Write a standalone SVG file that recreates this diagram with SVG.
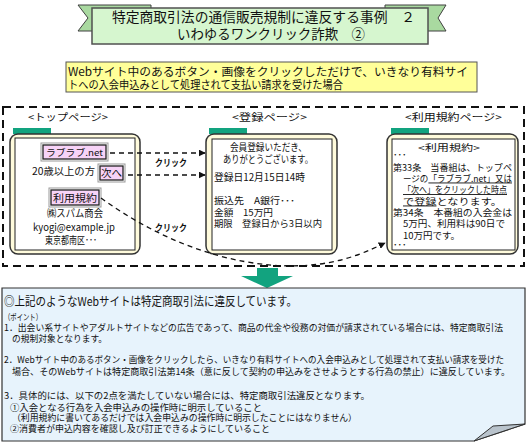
<svg xmlns="http://www.w3.org/2000/svg" width="528" height="444" viewBox="0 0 528 444">
<defs>
<style>
text{font-family:"Noto Sans CJK JP","Noto Sans CJK SC",sans-serif;fill:#111;}
.t11{font-size:10px;}
.t10{font-size:9px;}
.tt{font-size:9px;}
.rg{font-size:9.5px;}
.win{fill:#fffbdc;stroke:#333;stroke-width:1.5;}
.inner{fill:#fff;stroke:#222;stroke-width:1;}
.tab{fill:#12a37f;}
.btn{fill:#f7d3f7;stroke:#222;stroke-width:1.3;}
.btno{fill:none;stroke:#999;stroke-width:1;}
.dash{fill:none;stroke:#111;stroke-width:1.3;stroke-dasharray:5,4;}
.click{font-size:9.5px;font-weight:bold;}
</style>
<marker id="ah" viewBox="0 0 10 10" refX="9" refY="5" markerWidth="7" markerHeight="7" orient="auto" markerUnits="userSpaceOnUse">
<path d="M0,0 L10,5 L0,10 Z" fill="#111"/>
</marker>
</defs>
<rect width="528" height="444" fill="#fff"/>

<g id="title">
<path d="M78,5 H151 V31 H78 L88,18 Z" fill="#a9d9a0" stroke="#404040" stroke-width="1"/>
<path d="M385,5 H446 L438,18 L446,31 H385 Z" fill="#a9d9a0" stroke="#404040" stroke-width="1"/>
<rect x="92" y="8" width="336" height="36" fill="#d6f6cf" stroke="#505050" stroke-width="1.5"/>
<text x="112" y="22" font-size="13.5" textLength="303" lengthAdjust="spacingAndGlyphs">特定商取引法の通信販売規制に違反する事例　２</text>
<text x="177" y="39" font-size="13.5" textLength="188" lengthAdjust="spacingAndGlyphs">いわゆるワンクリック詐欺　②</text>
</g>

<g id="case">
<rect x="66" y="62" width="411" height="30" fill="#ffff99" stroke="#555" stroke-width="1"/>
<text x="68" y="75.5" font-size="11.5" textLength="400" lengthAdjust="spacingAndGlyphs">Webサイト中のあるボタン・画像をクリックしただけで、いきなり有料サイ</text>
<text x="68" y="89" font-size="11.5" textLength="275" lengthAdjust="spacingAndGlyphs">トへの入会申込みとして処理されて支払い請求を受けた場合</text>
</g>

<g id="frame">
<rect x="3" y="107" width="521" height="159" fill="none" stroke="#111" stroke-width="2" stroke-dasharray="8,5"/>
</g>

<g id="top-page">
<text x="28" y="121" class="t11" textLength="80" lengthAdjust="spacingAndGlyphs">&lt;トップページ&gt;</text>
<rect x="13" y="128" width="38" height="6" class="tab"/>
<rect x="10" y="134" width="130" height="120" rx="8" class="win"/>
<rect x="15" y="138" width="120" height="112" class="inner"/>
<rect x="41" y="143" width="67" height="18" class="btno"/>
<rect x="43" y="145" width="63" height="14" class="btn"/>
<text x="46" y="156" class="t10" textLength="57" lengthAdjust="spacingAndGlyphs">ラブラブ.net</text>
<text x="32" y="175" class="t11" textLength="63" lengthAdjust="spacingAndGlyphs">20歳以上の方</text>
<rect x="98" y="164" width="27" height="18" class="btno"/>
<rect x="100" y="166" width="23" height="14" class="btn"/>
<text x="101" y="177" class="t11" textLength="21" lengthAdjust="spacingAndGlyphs">次へ</text>
<rect x="49" y="188" width="52" height="19" class="btno"/>
<rect x="51" y="190" width="48" height="15" class="btn"/>
<text x="53" y="202" class="t11" textLength="44" lengthAdjust="spacingAndGlyphs">利用規約</text>
<text x="47" y="217" class="t11" textLength="56" lengthAdjust="spacingAndGlyphs">㈱スパム商会</text>
<text x="33" y="231" class="t11" textLength="82" lengthAdjust="spacingAndGlyphs">kyogi@example.jp</text>
<text x="45" y="244" class="t11" textLength="52" lengthAdjust="spacingAndGlyphs">東京都南区･･･</text>
</g>

<g id="register-page">
<text x="232" y="121" class="t11" textLength="75" lengthAdjust="spacingAndGlyphs">&lt;登録ページ&gt;</text>
<rect x="209" y="128" width="38" height="6" class="tab"/>
<rect x="206" y="134" width="131" height="120" rx="8" class="win"/>
<rect x="212" y="139" width="120" height="111" class="inner"/>
<text x="230" y="151" class="t11" textLength="77" lengthAdjust="spacingAndGlyphs">会員登録いただき、</text>
<text x="223" y="163" class="t11" textLength="90" lengthAdjust="spacingAndGlyphs">ありがとうございます。</text>
<text x="214" y="181" class="t11" textLength="91" lengthAdjust="spacingAndGlyphs">登録日12月15日14時</text>
<text x="214" y="204" class="rg" textLength="81" lengthAdjust="spacingAndGlyphs">振込先　A銀行･･･</text>
<text x="214" y="215.5" class="rg" textLength="59" lengthAdjust="spacingAndGlyphs">金額　15万円</text>
<text x="214" y="227" class="rg" textLength="108" lengthAdjust="spacingAndGlyphs">期限　登録日から3日以内</text>
</g>

<g id="terms-page">
<text x="405" y="121" class="t11" textLength="97" lengthAdjust="spacingAndGlyphs">&lt;利用規約ページ&gt;</text>
<rect x="391" y="128" width="38" height="6" class="tab"/>
<rect x="387" y="134" width="131" height="120" rx="8" class="win"/>
<rect x="392" y="139" width="123" height="111" class="inner"/>
<text x="418" y="151" class="tt" textLength="62" lengthAdjust="spacingAndGlyphs">&lt;利用規約&gt;</text>
<text x="393" y="158" class="tt">･･･</text>
<text x="393" y="170.5" class="tt" textLength="119" lengthAdjust="spacingAndGlyphs">第33条　当番組は、トップペ</text>
<text x="403" y="181.5" class="tt" textLength="109" lengthAdjust="spacingAndGlyphs">ージの<tspan text-decoration="underline">「ラブラブ.net」又は</tspan></text>
<text x="403" y="193" class="tt" textLength="104" lengthAdjust="spacingAndGlyphs" text-decoration="underline">「次へ」をクリックした時点</text>
<text x="403" y="204.5" class="tt" textLength="99" lengthAdjust="spacingAndGlyphs"><tspan text-decoration="underline">で登録</tspan>となります。</text>
<text x="393" y="215.5" class="tt" textLength="119" lengthAdjust="spacingAndGlyphs">第34条　本番組の入会金は</text>
<text x="403" y="227" class="tt" textLength="102" lengthAdjust="spacingAndGlyphs">5万円、利用料は90日で</text>
<text x="403" y="238.5" class="tt" textLength="57" lengthAdjust="spacingAndGlyphs">10万円です。</text>
<text x="393" y="248" class="tt">･･･</text>
</g>

<g id="connectors">
<path d="M110,153 H205" class="dash" marker-end="url(#ah)"/>
<path d="M128,175 H205" class="dash" marker-end="url(#ah)"/>
<path d="M101,198 C180,255 260,272 320,264 C350,260 370,250 385,243" class="dash" marker-end="url(#ah)"/>
<text x="155" y="166" class="click" textLength="32" lengthAdjust="spacingAndGlyphs">クリック</text>
<text x="155" y="231" class="click" textLength="32" lengthAdjust="spacingAndGlyphs">クリック</text>
<path d="M257,268 H278 V276 H293 L267,288 L241,276 H257 Z" fill="#12a37f"/>
</g>

<g id="explanation">
<path d="M2,288 H525 V424 L474,441 H2 Z" fill="#e7f3fc" stroke="#333" stroke-width="1.2"/>
<path d="M474,441 L493,426 L525,424 Z" fill="#b9c3cc" stroke="#333" stroke-width="1"/>
<text x="4" y="306" font-size="12" textLength="293" lengthAdjust="spacingAndGlyphs">◎上記のようなWebサイトは特定商取引法に違反しています。</text>
<text x="4" y="319.5" font-size="8.5" textLength="38" lengthAdjust="spacingAndGlyphs">（ポイント）</text>
<text x="4" y="331" class="t10" textLength="499" lengthAdjust="spacingAndGlyphs">1．出会い系サイトやアダルトサイトなどの広告であって、商品の代金や役務の対価が請求されている場合には、特定商取引法</text>
<text x="12" y="342" class="t10" textLength="95" lengthAdjust="spacingAndGlyphs">の規制対象となります。</text>
<text x="4" y="363" class="t10" textLength="500" lengthAdjust="spacingAndGlyphs">2．Webサイト中のあるボタン・画像をクリックしたら、いきなり有料サイトへの入会申込みとして処理されて支払い請求を受けた</text>
<text x="12" y="375" class="t10" textLength="498" lengthAdjust="spacingAndGlyphs">場合、そのWebサイトは特定商取引法第14条（意に反して契約の申込みをさせようとする行為の禁止）に違反しています。</text>
<text x="4" y="399" class="t10" textLength="366" lengthAdjust="spacingAndGlyphs">3．具体的には、以下の2点を満たしていない場合には、特定商取引法違反となります。</text>
<text x="10" y="410.5" class="t10" textLength="252" lengthAdjust="spacingAndGlyphs">①入会となる行為を入会申込みの操作時に明示していること</text>
<text x="12" y="421" class="t10" textLength="345" lengthAdjust="spacingAndGlyphs">（利用規約に書いてあるだけでは入会申込みの操作時に明示したことにはなりません）</text>
<text x="10" y="431.5" class="t10" textLength="260" lengthAdjust="spacingAndGlyphs">②消費者が申込内容を確認し及び訂正できるようにしていること</text>
</g>
</svg>
